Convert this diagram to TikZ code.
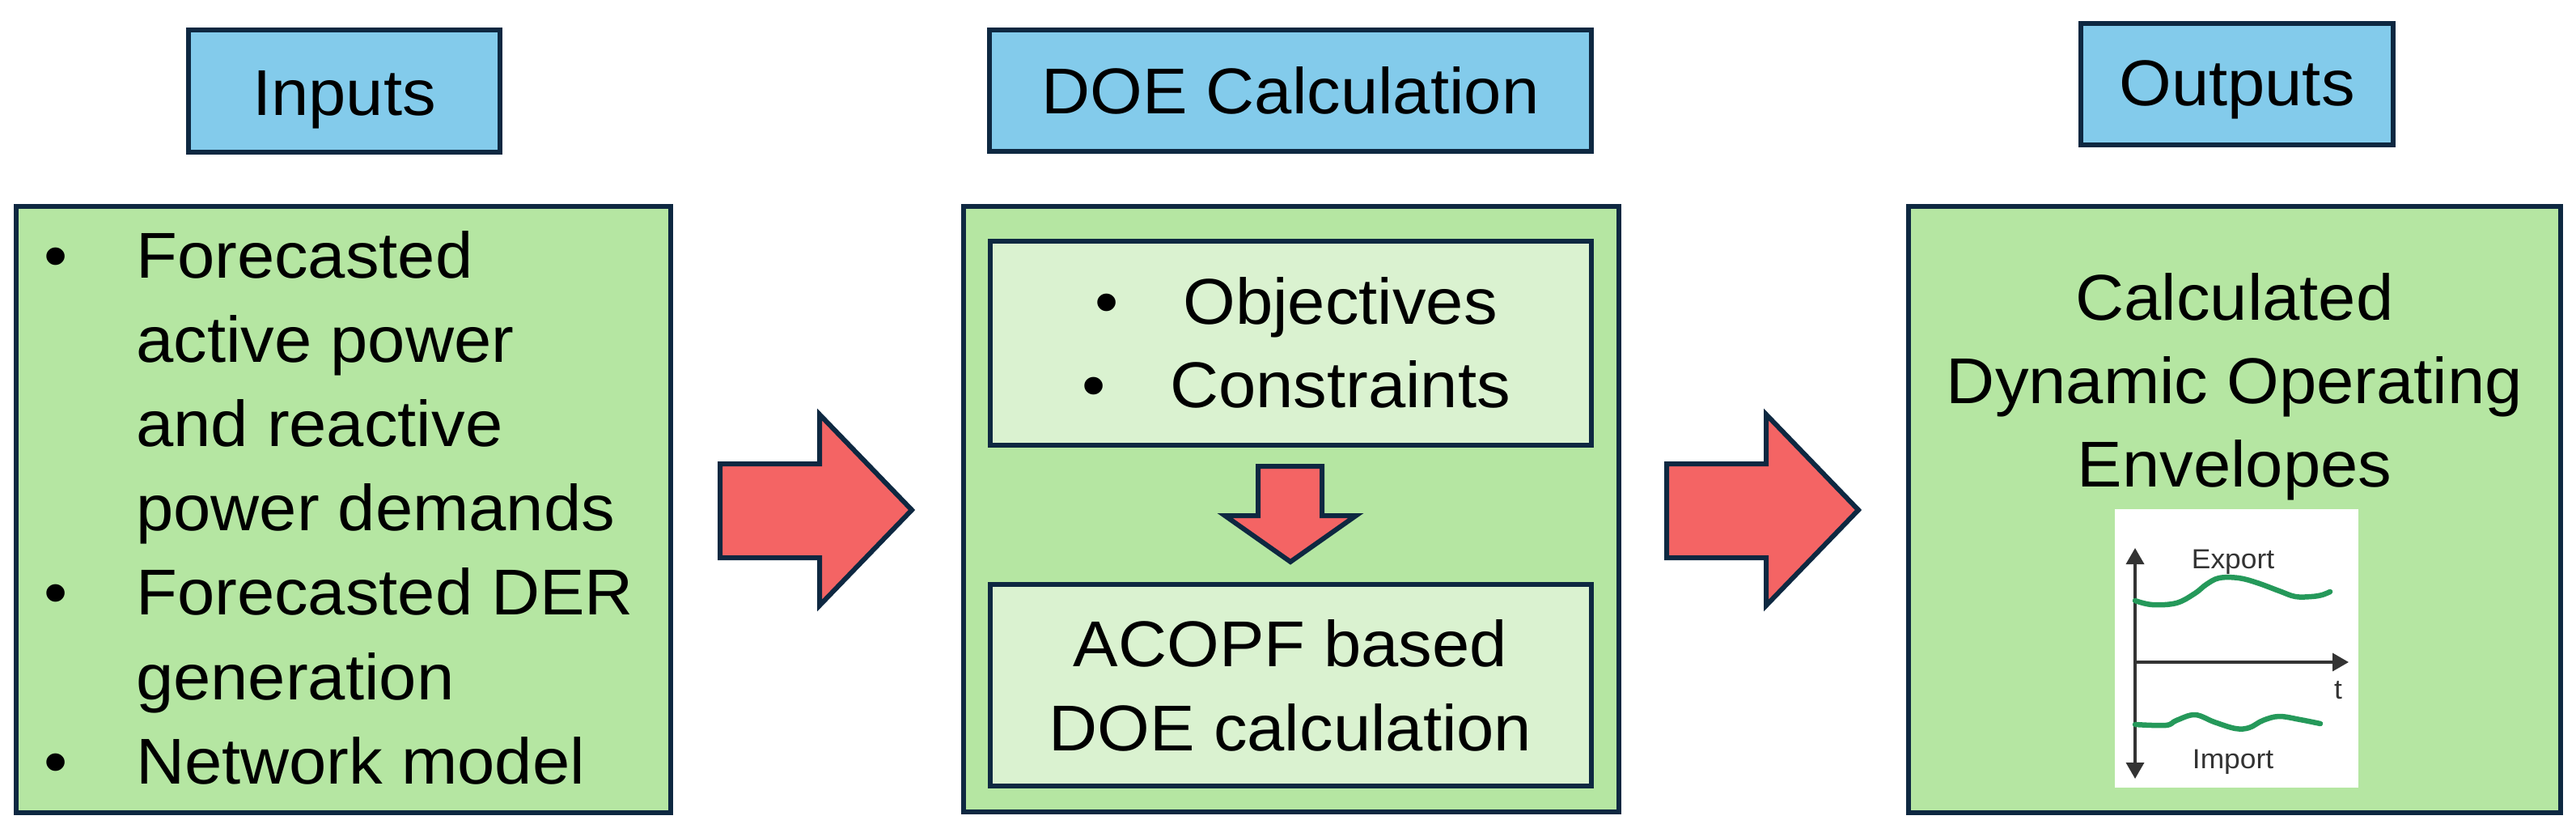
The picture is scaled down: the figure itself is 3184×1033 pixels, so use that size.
\documentclass[tikz,border=0pt]{standalone}
\usepackage{fontspec}
\setmainfont{Liberation Sans}[FakeStretch=1.04]
\usetikzlibrary{arrows.meta}
\definecolor{edge}{HTML}{0E2841}
\definecolor{hdr}{HTML}{83CBEB}
\definecolor{grn}{HTML}{B5E6A2}
\definecolor{lgrn}{HTML}{DAF2D0}
\definecolor{arrowred}{HTML}{F46464}
\definecolor{curvegreen}{HTML}{25995A}
\definecolor{axisgray}{HTML}{333333}
\begin{document}
\begin{tikzpicture}[x=1pt,y=-1pt,
  box/.style={draw=edge, line width=6.5pt, inner sep=0pt, outer sep=0pt},
  hdrbox/.style={box, fill=hdr},
  grnbox/.style={box, fill=grn},
  lgrnbox/.style={box, fill=lgrn},
  blockarrow/.style={draw=edge, line width=6pt, fill=arrowred, line join=miter},
  txt/.style={font=\fontsize{80}{104}\selectfont, inner sep=0pt, anchor=base},
  ltxt/.style={txt, anchor=base west},
  charttxt/.style={font=\fontsize{34}{38}\selectfont, text=axisgray, inner sep=0pt, anchor=base},
  axisline/.style={draw=axisgray, line width=3.5pt},
  envcurve/.style={draw=curvegreen, line width=6.5pt, line cap=round},
]
\useasboundingbox (0,0) rectangle (3184,1033);

% header boxes
\node[hdrbox, minimum width=385pt, minimum height=151pt] (inputs) at (425.5,112.5) {};
\node[hdrbox, minimum width=744pt, minimum height=150pt] (doe) at (1595,112) {};
\node[hdrbox, minimum width=386pt, minimum height=150pt] (outputs) at (2765,104) {};
\node[txt] (inputsT) at (425.5,142) {Inputs};
\node[txt] (doeT) at (1595,140) {DOE Calculation};
\node[txt] (outputsT) at (2765,130) {Outputs};

% main boxes
\node[grnbox, minimum width=809pt, minimum height=749pt] (left) at (424.5,629.5) {};
\node[grnbox, minimum width=810pt, minimum height=748pt] (mid) at (1596,629) {};
\node[grnbox, minimum width=806pt, minimum height=749pt] (right) at (2762,629.5) {};
\node[lgrnbox, minimum width=743pt, minimum height=252pt] (obj) at (1595.5,424) {};
\node[lgrnbox, minimum width=743pt, minimum height=249pt] (acopf) at (1595.5,846.5) {};

% left list
\node[txt] (b1) at (69,343) {•};
\node[ltxt] (l1) at (168,343) {Forecasted};
\node[ltxt] (l2) at (168,447) {active power};
\node[ltxt] (l3) at (168,551) {and reactive};
\node[ltxt] (l4) at (168,655) {power demands};
\node[txt] (b2) at (69,759) {•};
\node[ltxt] (l5) at (168,759) {Forecasted DER};
\node[ltxt] (l6) at (168,864) {generation};
\node[txt] (b3) at (69,968) {•};
\node[ltxt] (l7) at (168,968) {Network model};

% middle texts
\node[txt] (o1) at (1602,400) {•\hspace{80pt}Objectives};
\node[txt] (o2) at (1602,503) {•\hspace{80pt}Constraints};
\node[txt] (a1) at (1595,823) {ACOPF based};
\node[txt] (a2) at (1595,927) {DOE calculation};

% right texts
\node[txt] (r1) at (2762,395) {Calculated};
\node[txt] (r2) at (2762,498) {Dynamic Operating};
\node[txt] (r3) at (2762,601) {Envelopes};

% block arrows
\draw[blockarrow] (890,573) -- (1013,573) -- (1013,512) -- (1127,630) -- (1013,748) -- (1013,689) -- (890,689) -- cycle;
\draw[blockarrow] (2060,573) -- (2183,573) -- (2183,512) -- (2297,630) -- (2183,748) -- (2183,689) -- (2060,689) -- cycle;
\draw[blockarrow] (1555,576) -- (1634,576) -- (1634,637) -- (1676,637) -- (1595,694) -- (1514,637) -- (1555,637) -- cycle;

% chart
\node[fill=white, minimum width=301pt, minimum height=344pt, inner sep=0pt] (chart) at (2764.5,801) {};
\coordinate (vtop) at (2639,677);
\coordinate (vbot) at (2639,962);
\coordinate (horig) at (2639,818);
\coordinate (hend) at (2903,818);
\draw[axisline, {Triangle[length=20pt,width=22pt]}-{Triangle[length=20pt,width=22pt]}] (vtop) -- (vbot);
\draw[axisline, -{Triangle[length=20pt,width=22pt]}] (horig) -- (hend);
\draw[envcurve] plot[smooth, tension=0.6] coordinates {(2639,742) (2660,747) (2690,745) (2713,733) (2727,722) (2743,714) (2767,714) (2790,720) (2817,730) (2837,737) (2857,737) (2870,735) (2880,731)};
\draw[envcurve] plot[smooth, tension=0.6] coordinates {(2639,895) (2677,896) (2690,890) (2713,883) (2737,892) (2763,900) (2780,899) (2797,890) (2817,885) (2843,889) (2868,894)};
\node[charttxt] (exportT) at (2760,702) {Export};
\node[charttxt] (importT) at (2760,949) {Import};
\node[charttxt] (tT) at (2890,863) {t};
\end{tikzpicture}
\end{document}
